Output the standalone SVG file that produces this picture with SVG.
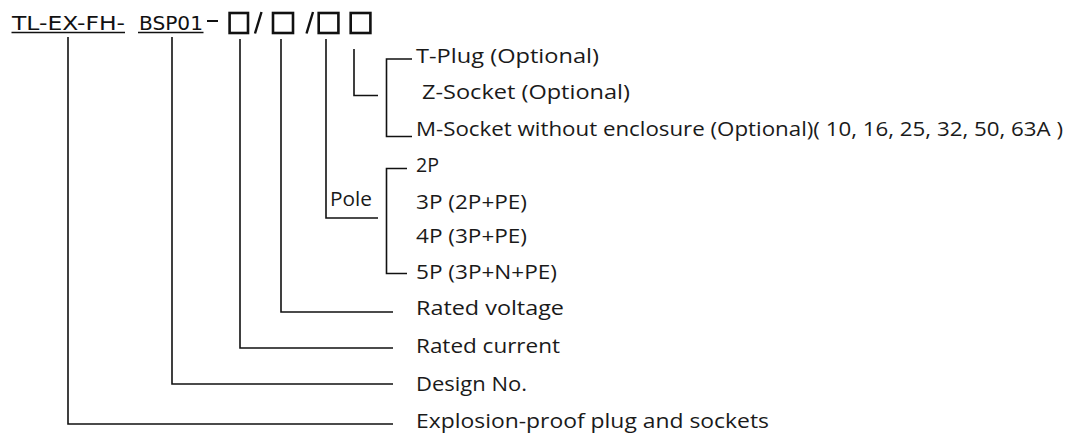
<svg xmlns="http://www.w3.org/2000/svg" width="1068" height="435" viewBox="0 0 1068 435">
<style>
.t{font-family:"Open Sans","Noto Sans","DejaVu Sans",sans-serif;font-size:20px;fill:#1a1a1a}
.h{font-family:"DejaVu Sans","Liberation Sans",sans-serif;font-size:19px;fill:#111}
.c{fill:none;stroke:#111;stroke-width:1.6}
.b{fill:none;stroke:#111;stroke-width:2.6}
.u{stroke:#111;stroke-width:1.4}
</style>
<rect width="1068" height="435" fill="#fff"/>
<g id="code">
<text class="h" x="12" y="29.5" textLength="113" lengthAdjust="spacingAndGlyphs">TL-EX-FH-</text>
<line class="u" x1="11.5" y1="32.5" x2="125" y2="32.5"/>
<text class="h" x="139" y="29.5" textLength="64" lengthAdjust="spacingAndGlyphs">BSP01</text>
<line class="u" x1="138" y1="32.5" x2="203.5" y2="32.5"/>
<line class="u" x1="207" y1="21" x2="218" y2="21" style="stroke-width:2"/>
<rect class="b" x="229.6" y="13" width="18.4" height="20"/>
<line class="b" x1="255" y1="33.5" x2="261.5" y2="12" style="stroke-width:2.4"/>
<rect class="b" x="273" y="13" width="20" height="20"/>
<line class="b" x1="306.5" y1="33.5" x2="313" y2="12" style="stroke-width:2.4"/>
<rect class="b" x="318.7" y="13" width="19.7" height="20"/>
<rect class="b" x="350.7" y="13" width="19.7" height="20"/>
</g>
<g id="connectors">
<polyline class="c" points="68,37 68,424 393,424"/>
<polyline class="c" points="172,37 172,384 393,384"/>
<polyline class="c" points="240,39 240,348 393,348"/>
<polyline class="c" points="281,39 281,312 393,312"/>
<polyline class="c" points="326,39 326,218 378,218"/>
<polyline class="c" points="354,49 354,95.5 378,95.5"/>
<polyline class="c" points="412,59 386.5,59 386.5,136.5 412,136.5"/>
<polyline class="c" points="407,168.5 386.5,168.5 386.5,273.5 407,273.5"/>
</g>
<g id="socket-types">
<text class="t" x="416" y="62.5" textLength="183" lengthAdjust="spacingAndGlyphs">T-Plug (Optional)</text>
<text class="t" x="422" y="98.5" textLength="208" lengthAdjust="spacingAndGlyphs">Z-Socket (Optional)</text>
<text class="t" x="416" y="136" textLength="647" lengthAdjust="spacingAndGlyphs">M-Socket without enclosure (Optional)( 10, 16, 25, 32, 50, 63A )</text>
</g>
<g id="pole">
<text class="t" x="330" y="206" textLength="42" lengthAdjust="spacingAndGlyphs">Pole</text>
<text class="t" x="416" y="172" textLength="23" lengthAdjust="spacingAndGlyphs">2P</text>
<text class="t" x="416" y="209" textLength="111" lengthAdjust="spacingAndGlyphs">3P (2P+PE)</text>
<text class="t" x="416" y="243" textLength="111" lengthAdjust="spacingAndGlyphs">4P (3P+PE)</text>
<text class="t" x="416" y="279" textLength="141" lengthAdjust="spacingAndGlyphs">5P (3P+N+PE)</text>
</g>
<g id="rated-voltage"><text class="t" x="416" y="314.5" textLength="148" lengthAdjust="spacingAndGlyphs">Rated voltage</text></g>
<g id="rated-current"><text class="t" x="416" y="352.5" textLength="144" lengthAdjust="spacingAndGlyphs">Rated current</text></g>
<g id="design-no"><text class="t" x="416" y="390.5" textLength="111" lengthAdjust="spacingAndGlyphs">Design No.</text></g>
<g id="explosion-proof"><text class="t" x="416" y="427.5" textLength="353" lengthAdjust="spacingAndGlyphs">Explosion-proof plug and sockets</text></g>
</svg>
